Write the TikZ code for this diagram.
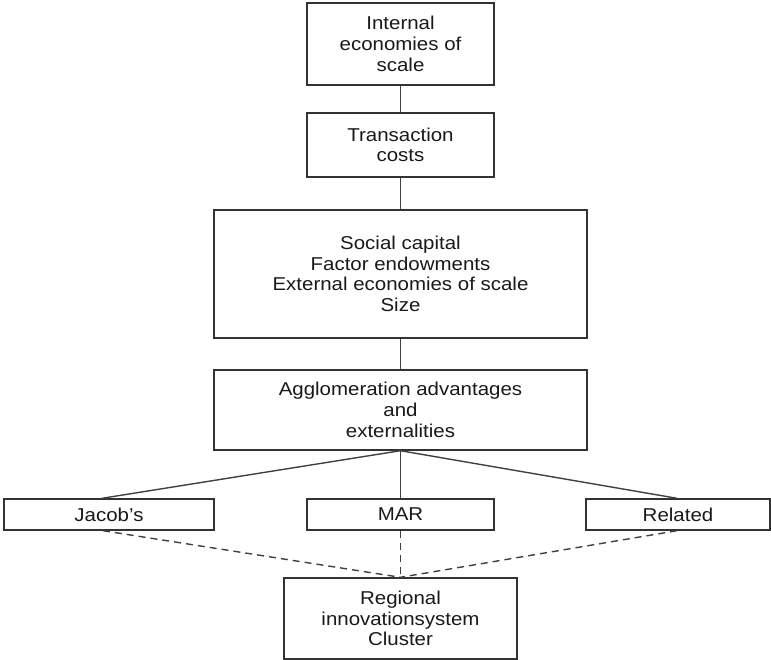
\documentclass[tikz,border=0pt]{standalone}
\usepackage{fontspec}
\setmainfont{Liberation Sans}[FakeStretch=1.1]
\begin{document}
\begin{tikzpicture}[x=1pt,y=-1pt,
  box/.style={draw=black!80, line width=1.4pt, inner sep=0pt, align=center,
    font=\fontsize{18.6}{20.7}\selectfont, text=black!90},
  link/.style={draw=black!75, line width=1.4pt},
  dlink/.style={draw=black!75, line width=1.4pt, dash pattern=on 7pt off 5pt}]
\useasboundingbox (0,0) rectangle (771,660);
\node[box, minimum width=187pt, minimum height=82pt] (b1) at (400.5,44) {Internal\\economies of\\scale};
\node[box, minimum width=187pt, minimum height=64pt] (b2) at (400.5,145) {Transaction\\costs};
\node[box, minimum width=373pt, minimum height=128pt] (b3) at (400.5,274) {Social capital\\Factor endowments\\External economies of scale\\Size};
\node[box, minimum width=373pt, minimum height=80pt] (b4) at (400.5,410) {Agglomeration advantages\\and\\externalities};
\node[box, minimum width=210pt, minimum height=31pt] (jac) at (109,514.5) {Jacob’s};
\node[box, minimum width=187pt, minimum height=31pt] (mar) at (400.5,514.5) {MAR};
\node[box, minimum width=184pt, minimum height=31pt] (rel) at (678,514.5) {Related};
\node[box, minimum width=233pt, minimum height=81pt] (bot) at (400.5,618.5) {Regional\\innovationsystem\\Cluster};
\draw[link] (b1) -- (b2);
\draw[link] (b2) -- (b3);
\draw[link] (b3) -- (b4);
\draw[link] (b4.south) -- ([xshift=-7pt]jac.north);
\draw[link] (b4.south) -- (mar.north);
\draw[link] (b4.south) -- ([xshift=-1pt]rel.north);
\draw[dlink] ([xshift=-6pt]jac.south) -- (bot.north);
\draw[dlink] (mar.south) -- (bot.north);
\draw[dlink] ([xshift=-1pt]rel.south) -- (bot.north);
\end{tikzpicture}
\end{document}
